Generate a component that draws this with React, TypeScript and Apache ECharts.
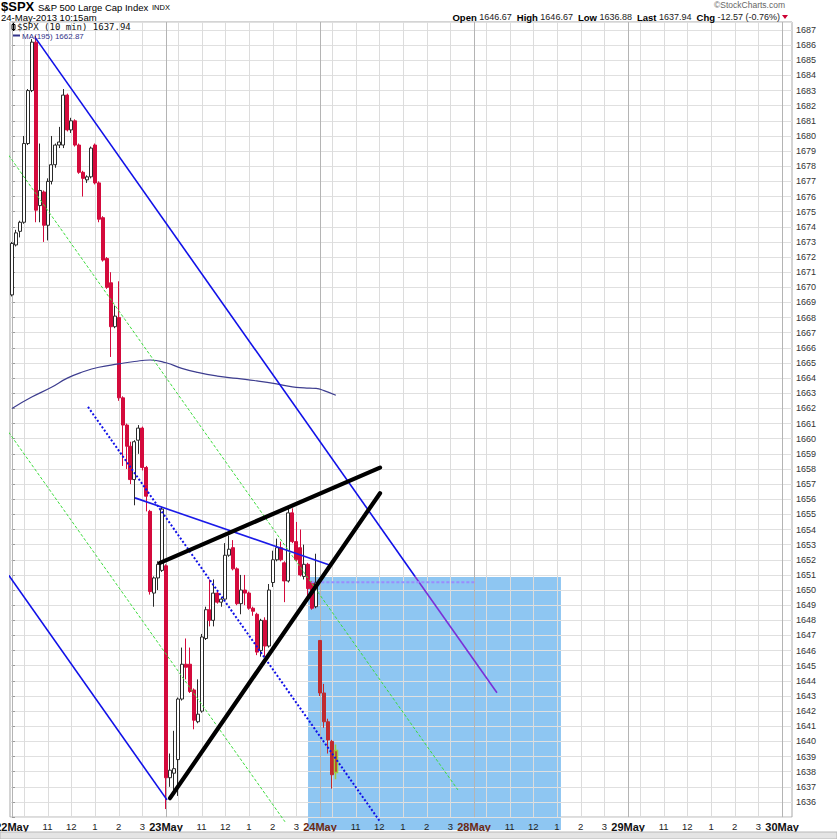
import React, { useEffect, useRef } from 'react';
import * as echarts from 'echarts';

// ---------- axis / calendar ----------
const DAYS = ['22May', '23May', '24May', '28May', '29May', '30May'];
const RED_DAYS = ['24May', '28May'];
const HOUR_TICKS: [number, string][] = [[9, '11'], [15, '12'], [21, '1'], [27, '2'], [33, '3']];
const GRID_OFFSETS = [0, 3, 9, 15, 21, 27, 33];
const BARS_PER_DAY = 39;
const SLOTS = 198;
const Y_MIN = 1635;
const Y_MAX = 1687.53;

// ---------- 10-minute candles [open, high, low, close] ----------
const MAY22: number[][] = [
  [1669.5, 1673.0, 1669.4, 1672.9], [1672.8, 1673.8, 1672.7, 1673.6], [1673.7, 1674.4, 1673.3, 1674.3],
  [1674.3, 1680.0, 1674.2, 1679.5], [1679.5, 1683.1, 1679.4, 1683.0], [1683.0, 1686.4, 1682.9, 1686.2],
  [1686.2, 1686.6, 1674.3, 1675.1], [1675.4, 1679.5, 1674.3, 1676.4], [1676.3, 1676.4, 1673.0, 1674.1],
  [1674.1, 1677.2, 1673.1, 1677.0], [1677.0, 1680.0, 1676.8, 1678.1], [1678.1, 1679.5, 1677.9, 1679.4],
  [1679.4, 1680.6, 1679.2, 1679.6], [1679.4, 1683.1, 1679.2, 1682.7], [1682.7, 1682.8, 1680.3, 1680.4],
  [1680.4, 1681.2, 1680.2, 1681.0], [1681.0, 1681.1, 1679.3, 1679.4], [1679.4, 1679.5, 1677.5, 1677.6],
  [1677.6, 1677.7, 1676.0, 1677.2], [1677.1, 1677.4, 1676.9, 1677.3], [1677.3, 1679.3, 1677.2, 1679.2],
  [1679.4, 1679.5, 1676.8, 1676.9], [1676.9, 1677.0, 1674.3, 1674.5], [1674.6, 1674.7, 1671.7, 1671.8],
  [1671.9, 1672.0, 1669.9, 1670.0], [1670.3, 1671.0, 1665.4, 1667.4], [1667.4, 1668.8, 1667.3, 1668.1],
  [1668.0, 1670.4, 1662.5, 1662.7], [1662.7, 1662.8, 1658.2, 1660.9], [1660.9, 1661.0, 1658.0, 1659.5],
  [1659.5, 1659.8, 1657.0, 1657.3], [1657.3, 1659.9, 1655.6, 1659.8], [1659.9, 1660.9, 1659.0, 1660.7],
  [1660.7, 1660.8, 1657.9, 1658.1], [1658.1, 1658.2, 1655.2, 1656.2], [1655.2, 1655.3, 1649.7, 1649.9],
  [1649.8, 1650.9, 1648.9, 1650.8], [1650.8, 1651.9, 1650.0, 1651.7], [1651.3, 1655.5, 1651.2, 1655.35],
];
const MAY23: number[][] = [
  [1651.6, 1651.7, 1635.53, 1637.6], [1637.6, 1639.2, 1637.0, 1638.1], [1637.9, 1640.7, 1636.5, 1638.2],
  [1638.8, 1642.9, 1636.4, 1642.8], [1642.8, 1646.2, 1642.7, 1645.1], [1645.1, 1646.8, 1644.1, 1644.9],
  [1645.1, 1646.2, 1643.2, 1643.3], [1643.4, 1643.5, 1640.8, 1641.4], [1641.3, 1644.1, 1641.2, 1641.8],
  [1642.0, 1647.1, 1641.9, 1646.9], [1646.8, 1648.9, 1646.7, 1648.7], [1648.7, 1650.7, 1647.6, 1648.0],
  [1648.0, 1650.7, 1647.6, 1649.8], [1649.8, 1649.9, 1649.1, 1649.2], [1649.2, 1649.5, 1648.9, 1649.4],
  [1649.4, 1653.1, 1649.3, 1652.3], [1652.3, 1653.6, 1652.2, 1652.7], [1652.8, 1653.3, 1651.3, 1651.4],
  [1651.4, 1651.5, 1649.0, 1649.1], [1649.1, 1651.0, 1648.4, 1650.0], [1650.0, 1651.0, 1649.0, 1649.8],
  [1649.8, 1649.9, 1648.7, 1648.8], [1648.8, 1648.9, 1648.3, 1648.6], [1648.4, 1648.5, 1645.7, 1645.9],
  [1646.0, 1648.1, 1645.6, 1648.0], [1648.0, 1648.2, 1645.6, 1646.3], [1646.3, 1650.4, 1646.2, 1650.0],
  [1650.5, 1652.6, 1650.2, 1652.0], [1652.0, 1653.4, 1651.9, 1652.8], [1652.8, 1653.2, 1651.9, 1652.0],
  [1651.8, 1651.9, 1649.2, 1650.6], [1650.6, 1655.4, 1650.5, 1655.1], [1655.1, 1655.4, 1653.1, 1653.2],
  [1653.2, 1654.5, 1651.9, 1652.0], [1652.8, 1654.0, 1650.9, 1651.0], [1650.9, 1653.0, 1650.7, 1651.7],
  [1651.7, 1651.8, 1649.6, 1650.1], [1650.5, 1650.6, 1648.7, 1648.8], [1648.9, 1652.4, 1648.8, 1650.51],
];
const MAY24: number[][] = [
  [1646.67, 1646.67, 1643.0, 1643.2], [1643.2, 1643.8, 1640.9, 1641.3], [1641.3, 1641.5, 1639.2, 1640.1],
  [1640.0, 1640.1, 1636.88, 1637.8], [1639.4, 1639.8, 1637.5, 1637.94],
];

// MA(195): [bar index, value]
const MA195: number[][] = [
  [0, 1662.0], [5, 1662.75], [10, 1663.4], [14, 1664.0], [18, 1664.42], [22, 1664.72], [27, 1664.94],
  [31, 1665.1], [35, 1665.2], [39, 1665.02], [43, 1664.65], [47, 1664.38], [52, 1664.14], [57, 1663.98],
  [62, 1663.82], [67, 1663.62], [71, 1663.42], [74, 1663.36], [77, 1663.32], [79, 1663.18], [82, 1662.87],
];

// ---------- drawn annotations: [bar index, price] ----------
const UPPER_CHANNEL = [[5.9, 1686.5], [102.05, 1650.9]];
const UPPER_CHANNEL_TAIL = [[102.05, 1650.9], [122.8, 1643.21]];
const LOWER_CHANNEL = [[-3.04, 1651.8], [39.25, 1636.14]];
const MID_DOTTED = [[19.25, 1662.1], [93.2, 1634.7]];
const GREEN_UPPER = [[-3.04, 1679.54], [112.9, 1636.8]];
const GREEN_LOWER = [[-3.04, 1661.24], [69.13, 1634.69]];
const NECKLINE = [[31.15, 1656.09], [80.4, 1651.66]];
const WEDGE_TOP = [[37.48, 1651.8], [93.19, 1658.09]];
const WEDGE_BOTTOM = [[40.01, 1636.25], [93.19, 1656.4]];
const PREV_CLOSE = [[75.8, 1650.51], [117.2, 1650.51]];
const TARGET_ZONE = [[74.96, 139.0, 1650.87]];

const FONT = 'Arial, "Liberation Sans", sans-serif';

const txt = (x: number, y: number, text: string, size: number, extra: any = {}) => ({
  type: 'text', x, y, z: 30,
  style: { text, fontSize: size, fontFamily: FONT, fill: '#000', textVerticalAlign: 'middle', ...extra },
});

export default function App() {
  const ref = useRef<HTMLDivElement>(null);

  useEffect(() => {
    if (!ref.current) return;
    const chart = echarts.init(ref.current, undefined, { renderer: 'svg' });

    const cats: string[] = [];
    for (let i = 0; i < SLOTS; i++) cats.push('s' + i);

    const labelFor = (idx: number) => {
      const d = Math.floor(idx / BARS_PER_DAY);
      const b = idx % BARS_PER_DAY;
      if (b === 0 && d < DAYS.length) {
        return RED_DAYS.includes(DAYS[d]) ? `{dr|${DAYS[d]}}` : `{d|${DAYS[d]}}`;
      }
      const h = HOUR_TICKS.find((t) => t[0] === b);
      return h ? `{h|${h[1]}}` : '';
    };

    const vgrid: number[][] = [];
    for (let d = 0; d < DAYS.length; d++) {
      for (const off of GRID_OFFSETS) {
        const idx = d * BARS_PER_DAY + off;
        if (idx < SLOTS) vgrid.push([idx, off === 0 ? 1 : 0]);
      }
    }

    const all = [...MAY22, ...MAY23, ...MAY24];
    const todayStart = MAY22.length + MAY23.length;
    const candles = all.map(([o, h, l, c], i) => {
      const item: any = { value: [o, c, l, h] };
      if (i >= todayStart) {
        item.itemStyle = { color0: '#c02a2e', borderColor0: '#c02a2e' };
        if (i === all.length - 1) item.itemStyle = { color0: '#c02a2e', borderColor0: '#9fcc3c', borderWidth: 1.5 };
      }
      return item;
    });

    const lineSeries = (data: number[][], color: string, width: number, type: any, z = 8, cap = 'butt') => ({
      type: 'line', xAxisIndex: 1, data, symbol: 'none', silent: true, clip: false, z,
      lineStyle: { color, width, type, cap },
    });

    const option: any = {
      animation: false,
      backgroundColor: '#ffffff',
      grid: {
        left: 10, right: 45, top: 22, bottom: 21.9, show: true, borderColor: '#a8a8a8', borderWidth: 1,
        backgroundColor: 'transparent', containLabel: false, outerBoundsMode: 'none',
      },
      xAxis: [
        {
          type: 'category', data: cats, boundaryGap: true, z: 10,
          axisLine: { show: false }, axisTick: { show: false }, splitLine: { show: false },
          axisLabel: {
            interval: 0, margin: 4, hideOverlap: false,
            formatter: (_v: string, idx: number) => labelFor(idx),
            rich: {
              d: { fontFamily: FONT, fontWeight: 'bold', fontSize: 11, color: '#111' },
              dr: { fontFamily: FONT, fontWeight: 'bold', fontSize: 11, color: '#6e2a12' },
              h: { fontFamily: FONT, fontSize: 9.5, color: '#222' },
            },
          },
        },
        { type: 'value', min: -0.5, max: SLOTS - 0.5, show: false },
      ],
      yAxis: {
        type: 'value', position: 'right', min: Y_MIN, max: Y_MAX, interval: 1, z: 3,
        axisLine: { show: true, lineStyle: { color: '#a8a8a8' } },
        axisTick: { show: true, length: 3, lineStyle: { color: '#999' } },
        axisLabel: {
          margin: 4, fontSize: 9, color: '#333', fontFamily: FONT,
          formatter: (v: number) => (Math.abs(v - Math.round(v)) < 1e-6 && v > Y_MIN + 0.5 ? String(Math.round(v)) : ''),
        },
        splitLine: { show: true, lineStyle: { color: '#e0e0e0', width: 1 } },
      },
      graphic: [
        txt(1, 6, '$SPX', 13, { fontWeight: 'bold' }),
        txt(38, 7, 'S&P 500 Large Cap Index', 9.5),
        txt(152, 7.5, 'INDX', 7.5),
        txt(1, 17.5, '24-May-2013 10:15am', 9.5),
        txt(785, 5, '©StockCharts.com', 8.5, { fill: '#666', textAlign: 'right' }),
        {
          type: 'text', x: 780, y: 17, z: 30,
          style: {
            text: '{b|Open} 1646.67  {b|High} 1646.67  {b|Low} 1636.88  {b|Last} 1637.94  {b|Chg} -12.57 (-0.76%)',
            fontSize: 9, fontFamily: FONT, fill: '#222', textAlign: 'right', textVerticalAlign: 'middle',
            rich: {
              b: { fontFamily: FONT, fontWeight: 'bold', fontSize: 9.5, fill: '#000' },
            },
          },
        },
        { type: 'polygon', z: 30, shape: { points: [[782, 15], [788, 15], [785, 19]] }, style: { fill: '#cc0033' } },
        { type: 'rect', z: 30, shape: { x: 12, y: 24.5, width: 3, height: 5 }, style: { fill: '#fff', stroke: '#000', lineWidth: 1 } },
        { type: 'line', z: 30, shape: { x1: 13.5, y1: 23, x2: 13.5, y2: 31 }, style: { stroke: '#000', lineWidth: 1 } },
        {
          type: 'text', x: 17, y: 27, z: 30,
          style: { text: '$SPX (10 min) 1637.94', fontSize: 9, fontFamily: '"DejaVu Sans Mono", monospace', fill: '#111', textVerticalAlign: 'middle' },
        },
        { type: 'line', z: 30, shape: { x1: 13, y1: 35.5, x2: 20, y2: 35.5 }, style: { stroke: '#33338a', lineWidth: 2 } },
        txt(22, 36, 'MA(195) 1662.87', 8, { fill: '#33338a' }),
        { type: 'rect', shape: { x: 0, y: 832, width: 837, height: 7 }, style: { fill: '#e4e4e4', stroke: '#b8b8b8', lineWidth: 1 }, z: 20 },
      ],
      series: [
        {
          type: 'custom', name: 'zone', xAxisIndex: 1, z: 1, silent: true, data: TARGET_ZONE,
          encode: { x: [0, 1], y: 2 },
          renderItem: (_p: any, api: any) => {
            const p0 = api.coord([api.value(0), api.value(2)]);
            const p1 = api.coord([api.value(1), Y_MIN]);
            return { type: 'rect', shape: { x: p0[0], y: p0[1], width: p1[0] - p0[0], height: p1[1] - p0[1] + 13 }, style: { fill: '#8ec6f2' } };
          },
        },
        {
          type: 'custom', name: 'vgrid', xAxisIndex: 1, z: 4, silent: true, data: vgrid,
          encode: { x: 0 },
          renderItem: (_p: any, api: any) => {
            const top = api.coord([api.value(0), Y_MAX]);
            const bot = api.coord([api.value(0), Y_MIN]);
            const x = Math.round(top[0]) + 0.5;
            return { type: 'line', shape: { x1: x, y1: top[1], x2: x, y2: bot[1] }, style: { stroke: api.value(1) ? '#b4b4b4' : '#dcdcdc', lineWidth: 1 } };
          },
        },
        {
          type: 'candlestick', name: '$SPX', xAxisIndex: 0, z: 6, barWidth: 3.5, data: candles,
          itemStyle: { color: '#ffffff', color0: '#d40a3c', borderColor: '#2a2a2a', borderColor0: '#d40a3c', borderWidth: 1 },
        },
        {
          type: 'line', name: 'MA(195)', xAxisIndex: 1, data: MA195, smooth: true, symbol: 'none', z: 7,
          lineStyle: { color: '#3d3d8f', width: 1.2 },
        },
        lineSeries(GREEN_UPPER, '#3ddc3d', 1, [3, 2]),
        lineSeries(GREEN_LOWER, '#3ddc3d', 1, [3, 2]),
        lineSeries(UPPER_CHANNEL, '#1010e8', 1.6, 'solid'),
        lineSeries(UPPER_CHANNEL_TAIL, '#7a30d8', 1.6, 'solid'),
        lineSeries(LOWER_CHANNEL, '#1010e8', 1.6, 'solid'),
        lineSeries(MID_DOTTED, '#1010e8', 2, [2, 2]),
        lineSeries(NECKLINE, '#1a1ae8', 1.6, 'solid'),
        lineSeries(PREV_CLOSE, '#9a8cff', 2, [3, 2]),
        lineSeries(WEDGE_TOP, '#000000', 4.2, 'solid', 9, 'round'),
        lineSeries(WEDGE_BOTTOM, '#000000', 4.2, 'solid', 9, 'round'),
      ],
    };

    chart.setOption(option);
    return () => chart.dispose();
  }, []);

  return <div ref={ref} style={{ position: 'absolute', left: 0, top: 0, width: 837, height: 839 }} />;
}
